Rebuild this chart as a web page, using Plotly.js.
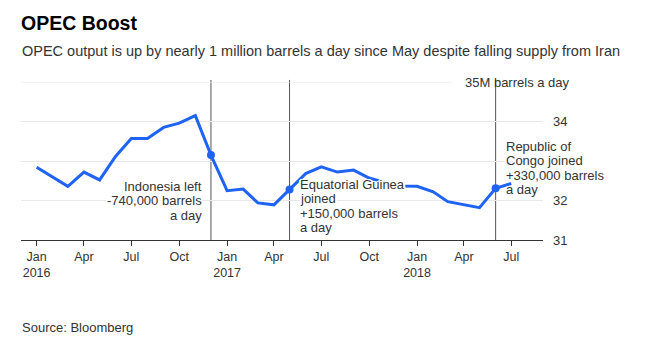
<!DOCTYPE html>
<html><head><meta charset="utf-8">
<script src="https://cdn.plot.ly/plotly-3.0.1.min.js"></script>
<style>html,body{margin:0;padding:0;background:#fff}#chart{width:661px;height:358px}</style>
</head><body><div id="chart"></div>
<script>
const months = ['2016-01-01','2016-02-01','2016-03-01','2016-04-01','2016-05-01','2016-06-01','2016-07-01','2016-08-01','2016-09-01','2016-10-01','2016-11-01','2016-12-01',
  '2017-01-01','2017-02-01','2017-03-01','2017-04-01','2017-05-01','2017-06-01','2017-07-01','2017-08-01','2017-09-01','2017-10-01','2017-11-01','2017-12-01',
  '2018-01-01','2018-02-01','2018-03-01','2018-04-01','2018-05-01','2018-06-01','2018-07-01'];
const output = [32.84,32.60,32.36,32.72,32.52,33.12,33.57,33.57,33.85,33.96,34.15,33.15,
  32.25,32.29,31.94,31.89,32.28,32.68,32.85,32.72,32.77,32.57,32.45,32.37,
  32.36,32.22,31.97,31.90,31.82,32.31,32.43];
const tickDates = ['2016-01-01','2016-04-01','2016-07-01','2016-10-01','2017-01-01','2017-04-01','2017-07-01','2017-10-01','2018-01-01','2018-04-01','2018-07-01'];
const tickLabels = ['Jan<br>2016','Apr','Jul','Oct','Jan<br>2017','Apr','Jul','Oct','Jan<br>2018','Apr','Jul'];
const yTicks = [31,32,33,34];
const yTickLabels = ['31','32','','34'];
const yTopValue = 35;
const yTopLabel = '35M barrels a day';
const eventDates = ['2016-12-01','2017-05-01','2018-06-01'];
const eventLabels = [
  ['Indonesia left','-740,000 barrels','a day'],
  ['Equatorial Guinea','joined','+150,000 barrels','a day'],
  ['Republic of','Congo joined','+330,000 barrels','a day']
];
const titleText = 'OPEC Boost';
const subtitleText = 'OPEC output is up by nearly 1 million barrels a day since May despite falling supply from Iran';
const sourceText = 'Source: Bloomberg';

const BLUE = '#1f63f5';
const FONT = 'Liberation Sans, Arial, sans-serif';
const halo = 'white 1px 0 0, white -1px 0 0, white 0 1px 0, white 0 -1px 0, white 1px 1px 0, white -1px -1px 0, white 1px -1px 0, white -1px 1px 0, white 2px 0 0, white -2px 0 0';

const eventValues = eventDates.map(d => output[months.indexOf(d)]);

const traces = [
  {x: months, y: output, type: 'scatter', mode: 'lines', line: {color: BLUE, width: 3}, hoverinfo: 'skip'},
  {x: eventDates, y: eventValues, type: 'scatter', mode: 'markers', marker: {color: BLUE, size: 8}, hoverinfo: 'skip'}
];

const shapes = eventDates.map(d => ({type: 'line', xref: 'x', yref: 'paper', x0: d, x1: d, y0: 0, y1: 1.013, line: {color: '#555', width: 1}, layer: 'below'}));
shapes.push({type: 'line', xref: 'paper', yref: 'y', x0: 0, x1: 0.8257, y0: yTopValue, y1: yTopValue, line: {color: '#e8e8e8', width: 1}, layer: 'below'});

const annFont = {family: FONT, size: 13, color: '#333', shadow: halo};
const anns = [];
const annCfg = [
  {xanchor: 'right', xshift: -7, y: 32.354},
  {xanchor: 'left', xshift: 8, y: 32.405},
  {xanchor: 'left', xshift: 8, y: 33.367}
];
eventLabels.forEach((lines, k) => {
  lines.forEach((t, i) => {
    anns.push({text: t, x: eventDates[k], xref: 'x', y: annCfg[k].y, yref: 'y', xanchor: annCfg[k].xanchor, yanchor: 'middle',
      xshift: annCfg[k].xshift, yshift: -14.4 * i, showarrow: false, font: annFont, align: annCfg[k].xanchor});
  });
});
anns.push({text: yTopLabel, xref: 'paper', x: 0.8467, yref: 'y', y: yTopValue, xanchor: 'left', yanchor: 'middle', showarrow: false, font: {family: FONT, size: 13, color: '#333'}});
anns.push({text: subtitleText, xref: 'paper', x: 0, yref: 'paper', y: 1.195, xanchor: 'left', yanchor: 'middle', showarrow: false, xshift: -1, font: {family: FONT, size: 14.5, color: '#333'}});
anns.push({text: sourceText, xref: 'paper', x: 0, yref: 'paper', y: -0.551, xanchor: 'left', yanchor: 'middle', showarrow: false, xshift: -1, font: {family: FONT, size: 13, color: '#333'}});

const layout = {
  width: 661, height: 358,
  margin: {l: 21, r: 118, t: 82, b: 118},
  paper_bgcolor: '#fff', plot_bgcolor: '#fff',
  showlegend: false,
  font: {family: FONT, color: '#333'},
  title: {text: '<b>' + titleText + '</b>', x: 0, xref: 'paper', xanchor: 'left', y: 0.953, yref: 'container', yanchor: 'top', font: {family: FONT, size: 19.5, color: '#000'}},
  xaxis: {type: 'date', range: ['2015-12-02', '2018-08-31'], tickvals: tickDates, ticktext: tickLabels,
    ticks: 'outside', ticklen: 5, tickcolor: '#333', showline: true, linecolor: '#333', linewidth: 1,
    showgrid: false, zeroline: false, tickfont: {family: FONT, size: 12.5, color: '#333'}, fixedrange: true},
  yaxis: {range: [31, 35], tickvals: yTicks, ticktext: yTickLabels, side: 'right', showgrid: true, gridcolor: '#e8e8e8', gridwidth: 1,
    ticks: '', ticklabelstandoff: 9, zeroline: false, showline: false, tickfont: {family: FONT, size: 13, color: '#333'}, fixedrange: true},
  shapes: shapes,
  annotations: anns
};
Plotly.newPlot('chart', traces, layout, {displayModeBar: false, staticPlot: true});
</script>
</body></html>
